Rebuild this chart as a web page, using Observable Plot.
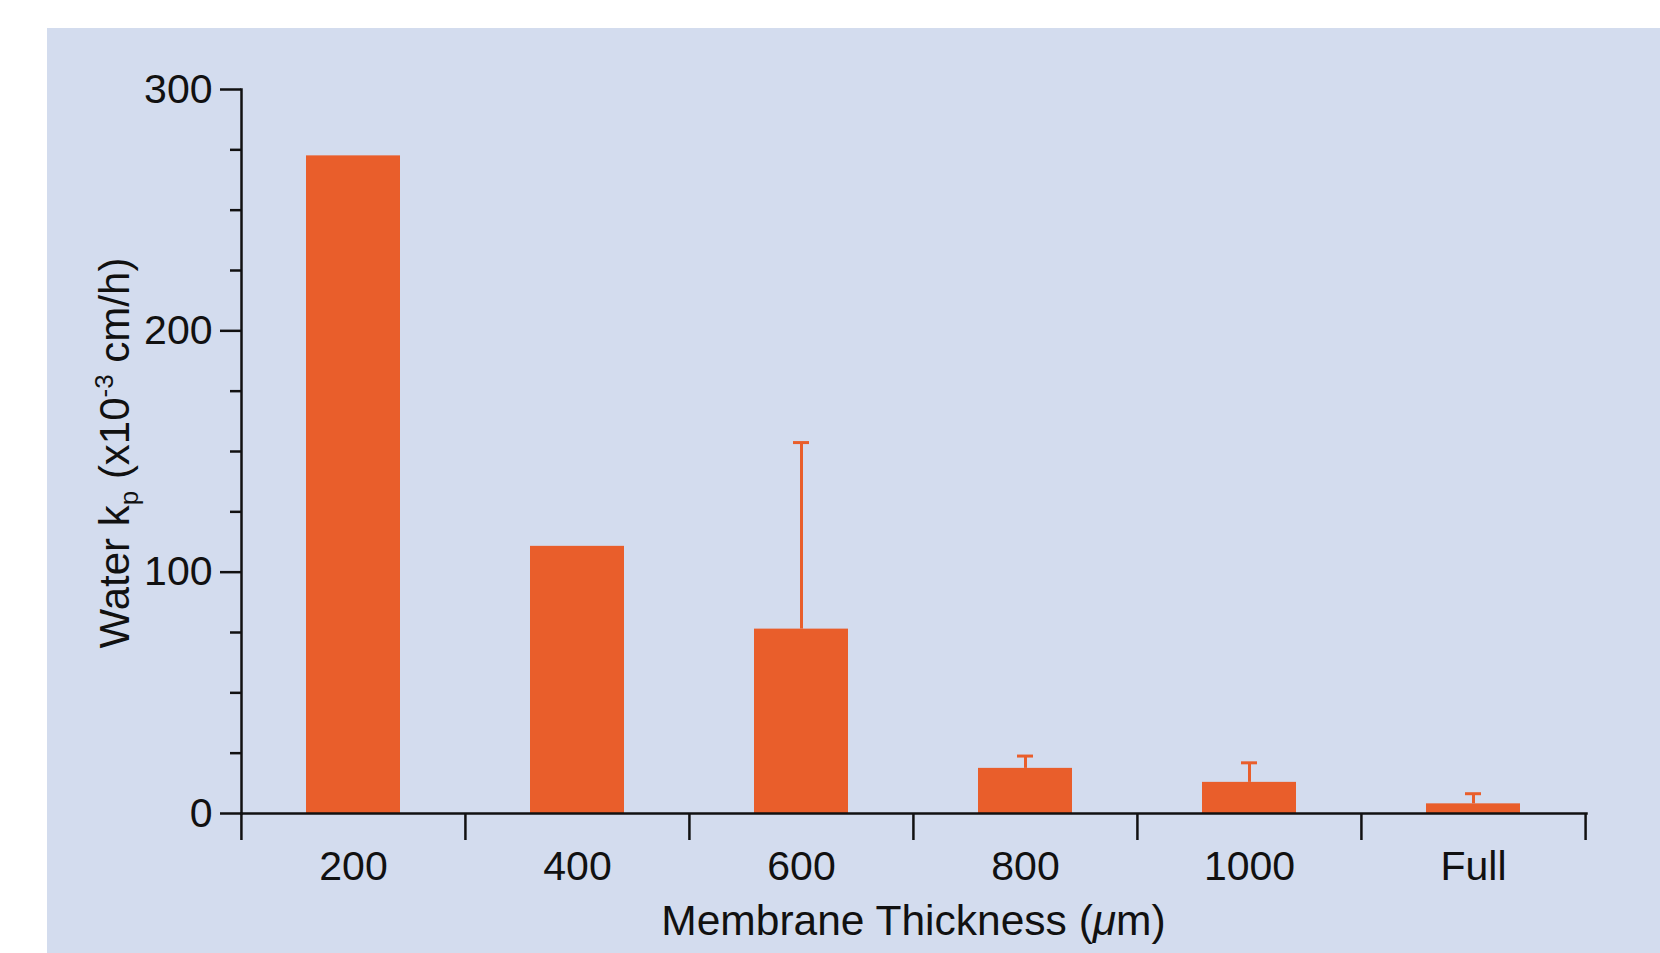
<!DOCTYPE html>
<html>
<head>
<meta charset="utf-8">
<script src="https://cdn.jsdelivr.net/npm/d3@7"></script>
<script src="https://cdn.jsdelivr.net/npm/@observablehq/plot@0.6"></script>
<style>
  html, body { margin: 0; padding: 0; background: #ffffff; overflow: hidden; }
  #panel { position: absolute; left: 47px; top: 28px; right: 0; bottom: 0; background: #D3DCEE; }
  #chart { position: absolute; left: 0; top: 0; }
</style>
</head>
<body>
<div id="panel"></div>
<div id="chart"></div>
<script>
const categories = ["200", "400", "600", "800", "1000", "Full"];
const values = [272.5, 110.7, 76.4, 18.7, 12.9, 4.0];
const errorTops = [null, null, 153.7, 23.8, 21.0, 8.2];
const yMajorTicks = [0, 100, 200, 300];
const yMinorTicks = [25, 50, 75, 125, 150, 175, 225, 250, 275];

const data = categories.map((c, i) => ({ cat: c, value: values[i], err: errorTops[i] }));
const withErr = data.filter(d => d.err != null);

const W = 1660, H = 953;
const mL = 241, mR = 74, mT = 89, mB = 140;
const step = (W - mL - mR) / categories.length;
const barColor = "#E95E2B";
const ink = "#111111";
const font = "'Liberation Sans', Arial, Helvetica, sans-serif";

const plot = Plot.plot({
  width: W,
  height: H,
  marginLeft: mL,
  marginRight: mR,
  marginTop: mT,
  marginBottom: mB,
  style: { background: "transparent", fontFamily: font, color: ink, overflow: "visible" },
  x: { type: "band", domain: categories, paddingInner: 0.58, paddingOuter: 0.29, align: 0.5 },
  y: { domain: [0, 300] },
  marks: [
    Plot.barY(data, { x: "cat", y: "value", fill: barColor }),
    Plot.ruleX(withErr, { x: "cat", y1: "value", y2: "err", stroke: barColor, strokeWidth: 3 }),
    Plot.tickY(withErr, { x: "cat", y: "err", stroke: barColor, strokeWidth: 3, insetLeft: 39, insetRight: 39 }),
    Plot.frame({ anchor: "left", stroke: ink, strokeWidth: 2.5 }),
    Plot.frame({ anchor: "bottom", stroke: ink, strokeWidth: 2.5 }),
    Plot.axisY(yMajorTicks, { tickSize: 21, tickPadding: 8, fontSize: 41, strokeWidth: 2.5, stroke: ink, fill: ink, label: null, tickFormat: d => String(d) }),
    Plot.axisY(yMinorTicks, { tickSize: 11, tickFormat: () => "", strokeWidth: 2.5, stroke: ink, label: null }),
    Plot.axisX(categories, { tickSize: 0, tickPadding: 37, fontSize: 41, fill: ink, label: null }),
    Plot.axisX(categories, { tickSize: 27, dx: -step / 2, tickFormat: () => "", strokeWidth: 2.5, stroke: ink, label: null }),
    Plot.axisX([categories[categories.length - 1]], { tickSize: 27, dx: step / 2, tickFormat: () => "", strokeWidth: 2.5, stroke: ink, label: null })
  ]
});

document.getElementById("chart").appendChild(plot);

const svg = d3.select(plot);

// x-axis title
const xt = svg.append("text")
  .attr("x", mL + (W - mL - mR) / 2)
  .attr("y", 935)
  .attr("text-anchor", "middle")
  .attr("font-family", font)
  .attr("font-size", 42.5)
  .attr("fill", ink);
xt.append("tspan").text("Membrane Thickness (");
xt.append("tspan").attr("font-style", "italic").text("μ");
xt.append("tspan").text("m)");

// y-axis title
const yt = svg.append("text")
  .attr("transform", `translate(129, ${mT + (H - mB - mT) / 2 + 2}) rotate(-90)`)
  .attr("text-anchor", "middle")
  .attr("font-family", font)
  .attr("font-size", 42)
  .attr("fill", ink);
yt.append("tspan").text("Water k");
yt.append("tspan").attr("font-size", 26).attr("dy", 9).text("p");
yt.append("tspan").attr("dy", -9).text(" (x10");
yt.append("tspan").attr("font-size", 26).attr("dy", -16).text("-3");
yt.append("tspan").attr("dy", 16).text(" cm/h)");
</script>
</body>
</html>
